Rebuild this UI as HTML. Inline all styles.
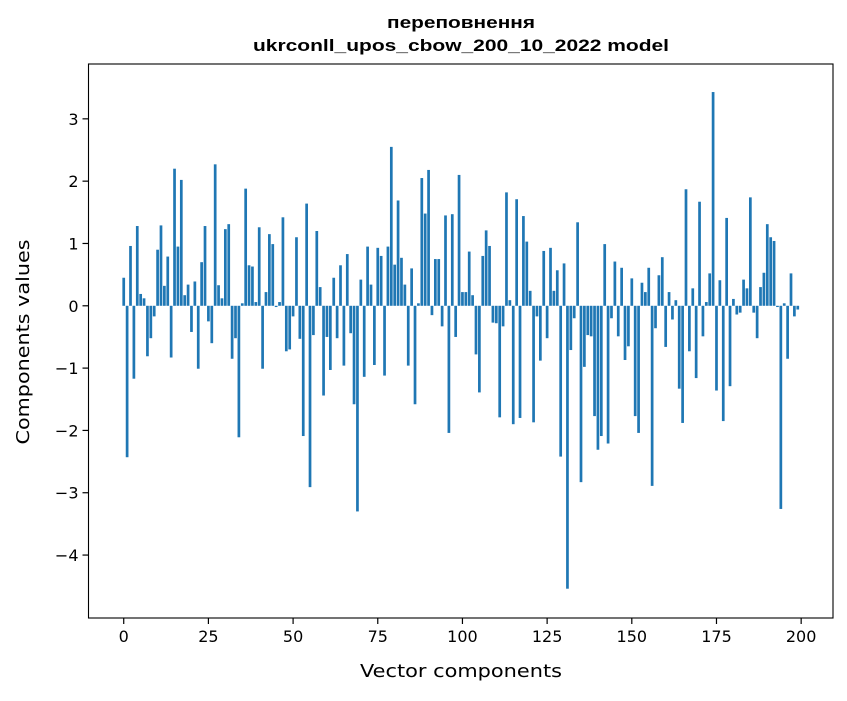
<!DOCTYPE html>
<html><head><meta charset="utf-8"><style>
body{margin:0;background:#fff;}
svg text{font-family:"DejaVu Sans","Liberation Sans",sans-serif;fill:#000;}
svg text.title{font-family:"Liberation Sans","DejaVu Sans",sans-serif;font-weight:bold;}
</style></head><body>
<svg id="chart" width="847" height="696" viewBox="0 0 847 696">
<text class="title" x="461" y="28" text-anchor="middle" font-size="17" textLength="148" lengthAdjust="spacingAndGlyphs">переповнення</text>
<text class="title" x="461" y="51" text-anchor="middle" font-size="17" textLength="416" lengthAdjust="spacingAndGlyphs">ukrconll_upos_cbow_200_10_2022 model</text>
<g id="bars"></g>
<rect x="88.5" y="64" width="744.5" height="554" fill="none" stroke="#000" stroke-width="1.1"/>
<g id="xticks"></g>
<g id="yticks"></g>
<text x="461" y="677" text-anchor="middle" font-size="18" textLength="202" lengthAdjust="spacingAndGlyphs">Vector components</text>
<text transform="translate(29,342) rotate(-90)" text-anchor="middle" font-size="18" textLength="205" lengthAdjust="spacingAndGlyphs">Components values</text>
</svg>
<script>
const values = [0.45,-2.43,0.96,-1.17,1.28,0.19,0.12,-0.81,-0.52,-0.17,
0.90,1.29,0.32,0.79,-0.83,2.20,0.95,2.02,0.17,0.34,
-0.42,0.39,-1.01,0.70,1.28,-0.25,-0.60,2.27,0.33,0.12,
1.23,1.31,-0.85,-0.52,-2.11,0.04,1.88,0.65,0.63,0.06,
1.26,-1.01,0.22,1.15,0.99,-0.02,0.06,1.42,-0.73,-0.70,
-0.17,1.10,-0.53,-2.09,1.64,-2.91,-0.47,1.20,0.30,-1.44,
-0.50,-1.03,0.45,-0.52,0.65,-0.96,0.83,-0.44,-1.58,-3.30,
0.42,-1.14,0.95,0.34,-0.95,0.93,0.80,-1.12,0.95,2.55,
0.66,1.69,0.77,0.34,-0.96,0.60,-1.58,0.04,2.05,1.48,
2.18,-0.15,0.75,0.75,-0.33,1.45,-2.04,1.47,-0.50,2.10,
0.22,0.22,0.87,0.17,-0.78,-1.39,0.80,1.21,0.96,-0.27,
-0.28,-1.79,-0.33,1.82,0.09,-1.90,1.71,-1.80,1.44,1.03,
0.24,-1.87,-0.17,-0.88,0.88,-0.52,0.93,0.24,0.57,-2.42,
0.68,-4.54,-0.71,-0.20,1.34,-2.83,-0.98,-0.47,-0.49,-1.77,
-2.31,-2.09,0.99,-2.21,-0.20,0.71,-0.49,0.61,-0.87,-0.65,
0.44,-1.77,-2.04,0.37,0.22,0.61,-2.89,-0.36,0.49,0.78,
-0.66,0.22,-0.22,0.09,-1.33,-1.88,1.87,-0.73,0.28,-1.16,
1.67,-0.49,0.06,0.52,3.43,-1.36,0.41,-1.85,1.41,-1.29,
0.11,-0.14,-0.11,0.42,0.28,1.74,-0.11,-0.52,0.30,0.53,
1.31,1.10,1.04,-0.02,-3.26,0.04,-0.85,0.52,-0.17,-0.06];
const xTickLabels = [0,25,50,75,100,125,150,175,200];
const yTickLabels = [-4,-3,-2,-1,0,1,2,3];
const NS="http://www.w3.org/2000/svg";
const L=88.5,R=833,T=64,B=618,xmin=-10.4,xmax=209.4,ymin=-5.01,ymax=3.88;
function xs(v){return L+(v-xmin)/(xmax-xmin)*(R-L);}
function ys(v){return B-(v-ymin)/(ymax-ymin)*(B-T);}
const bars=document.getElementById('bars');
values.forEach((v,i)=>{
  const r=document.createElementNS(NS,'rect');
  const x0=xs(i-0.4),x1=xs(i+0.4);
  const y0=ys(Math.max(v,0)),y1=ys(Math.min(v,0));
  r.setAttribute('x',x0);r.setAttribute('width',x1-x0);
  r.setAttribute('y',y0);r.setAttribute('height',Math.max(y1-y0,0.3));
  r.setAttribute('fill','#1f77b4');
  
  
  bars.appendChild(r);
});
const xg=document.getElementById('xticks');
xTickLabels.forEach(t=>{
  const x=xs(t);
  const l=document.createElementNS(NS,'line');
  l.setAttribute('x1',x);l.setAttribute('x2',x);l.setAttribute('y1',B);l.setAttribute('y2',B+6);
  l.setAttribute('stroke','#000');l.setAttribute('stroke-width','1.2');
  
  
  xg.appendChild(l);
  const tx=document.createElementNS(NS,'text');
  tx.setAttribute('x',x);tx.setAttribute('y',B+24);tx.setAttribute('text-anchor','middle');tx.setAttribute('font-size','16');
  tx.textContent=t;
  
  
  xg.appendChild(tx);
});
const yg=document.getElementById('yticks');
yTickLabels.forEach(t=>{
  const y=ys(t);
  const l=document.createElementNS(NS,'line');
  l.setAttribute('x1',L-6);l.setAttribute('x2',L);l.setAttribute('y1',y);l.setAttribute('y2',y);
  l.setAttribute('stroke','#000');l.setAttribute('stroke-width','1.2');
  
  
  yg.appendChild(l);
  const tx=document.createElementNS(NS,'text');
  tx.setAttribute('x',L-10);tx.setAttribute('y',y+6);tx.setAttribute('text-anchor','end');tx.setAttribute('font-size','16');
  tx.textContent=t<0?'\u2212'+Math.abs(t):String(t);
  
  
  yg.appendChild(tx);
});
</script>
</body></html>
